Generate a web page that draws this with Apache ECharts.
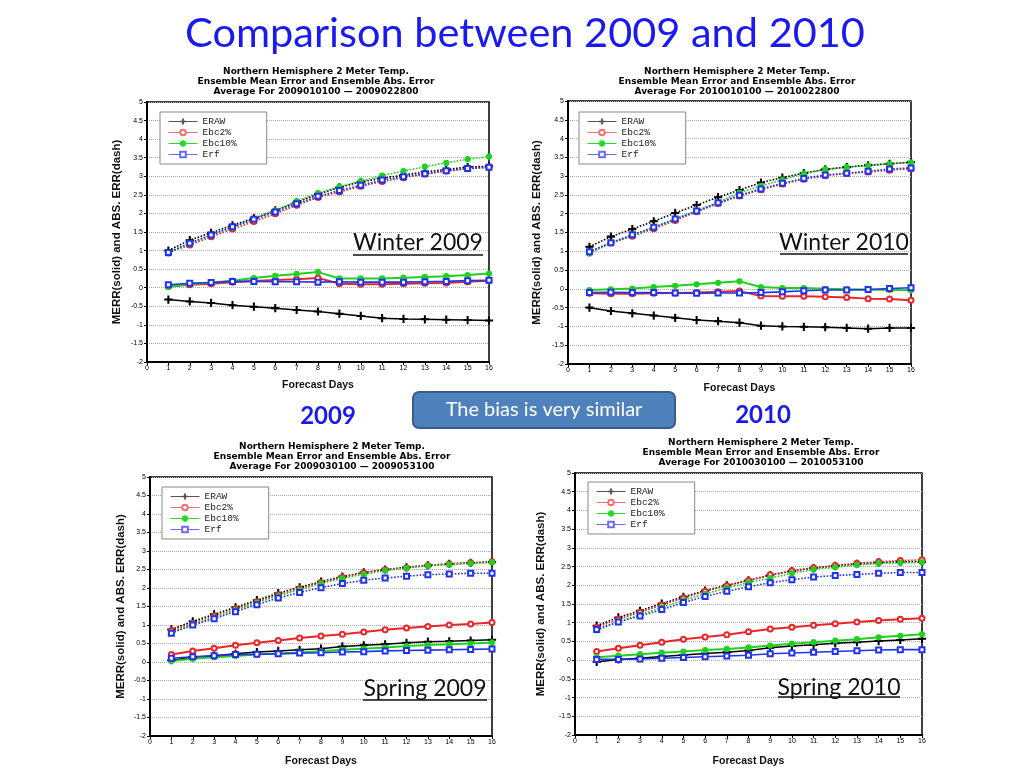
<!DOCTYPE html>
<html>
<head>
<meta charset="utf-8">
<script src="https://cdn.jsdelivr.net/npm/echarts@6/dist/echarts.min.js"></script>
<style>html,body{margin:0;padding:0;background:#fff}#c{width:1024px;height:768px}</style>
</head>
<body>
<div id="c"></div>
<script>
// ---------- data ----------
const days = [1,2,3,4,5,6,7,8,9,10,11,12,13,14,15,16];
const yTicks = [-2,-1.5,-1,-0.5,0,0.5,1,1.5,2,2.5,3,3.5,4,4.5,5];
const seriesNames = ['ERAW','Ebc2%','Ebc10%','Erf'];
const panelTitles = [
  ['Northern Hemisphere 2 Meter Temp.','Ensemble Mean Error and Ensemble Abs. Error','Average For 2009010100 \u2014 2009022800'],
  ['Northern Hemisphere 2 Meter Temp.','Ensemble Mean Error and Ensemble Abs. Error','Average For 2010010100 \u2014 2010022800'],
  ['Northern Hemisphere 2 Meter Temp.','Ensemble Mean Error and Ensemble Abs. Error','Average For 2009030100 \u2014 2009053100'],
  ['Northern Hemisphere 2 Meter Temp.','Ensemble Mean Error and Ensemble Abs. Error','Average For 2010030100 \u2014 2010053100']
];
const panelLabels = ['Winter 2009','Winter 2010','Spring 2009','Spring 2010'];

// Winter 2009 — mean error (solid)
const w09_eraw_merr = [-0.32,-0.37,-0.41,-0.47,-0.51,-0.55,-0.60,-0.64,-0.70,-0.76,-0.82,-0.84,-0.85,-0.86,-0.87,-0.88];
const w09_bc2_merr  = [0.03,0.08,0.11,0.15,0.18,0.21,0.23,0.26,0.11,0.09,0.09,0.11,0.12,0.13,0.16,0.19];
const w09_bc10_merr = [0.02,0.10,0.14,0.19,0.26,0.32,0.37,0.42,0.25,0.25,0.25,0.27,0.29,0.31,0.34,0.38];
const w09_erf_merr  = [0.08,0.12,0.14,0.17,0.17,0.16,0.16,0.15,0.16,0.15,0.15,0.15,0.16,0.17,0.19,0.20];
// Winter 2009 — abs error (dash)
const w09_eraw_abs = [1.00,1.28,1.48,1.68,1.87,2.08,2.30,2.52,2.70,2.85,2.95,3.03,3.12,3.18,3.25,3.27];
const w09_bc2_abs  = [0.95,1.15,1.37,1.58,1.78,1.99,2.22,2.43,2.58,2.73,2.86,2.96,3.06,3.14,3.20,3.25];
const w09_bc10_abs = [0.92,1.20,1.42,1.62,1.85,2.08,2.33,2.55,2.72,2.87,3.02,3.14,3.26,3.36,3.46,3.53];
const w09_erf_abs  = [0.95,1.20,1.42,1.64,1.84,2.04,2.26,2.46,2.62,2.76,2.90,2.99,3.07,3.15,3.21,3.24];

// Winter 2010
const w10_eraw_merr = [-0.50,-0.59,-0.65,-0.71,-0.77,-0.83,-0.86,-0.90,-0.98,-1.00,-1.01,-1.02,-1.04,-1.06,-1.04,-1.04];
const w10_bc2_merr  = [-0.12,-0.13,-0.13,-0.12,-0.11,-0.10,-0.08,-0.06,-0.19,-0.20,-0.20,-0.21,-0.23,-0.26,-0.27,-0.30];
const w10_bc10_merr = [-0.03,-0.01,0.01,0.05,0.08,0.12,0.16,0.20,0.05,0.02,0.02,0.00,-0.01,-0.02,-0.03,-0.04];
const w10_erf_merr  = [-0.10,-0.09,-0.10,-0.10,-0.11,-0.12,-0.11,-0.11,-0.10,-0.08,-0.05,-0.03,-0.03,-0.02,0.01,0.03];
const w10_eraw_abs = [1.12,1.39,1.59,1.80,2.02,2.23,2.44,2.63,2.83,2.96,3.08,3.18,3.24,3.29,3.33,3.37];
const w10_bc2_abs  = [0.98,1.22,1.40,1.60,1.82,2.05,2.27,2.47,2.64,2.79,2.92,3.01,3.07,3.11,3.16,3.20];
const w10_bc10_abs = [0.94,1.22,1.42,1.63,1.86,2.08,2.30,2.56,2.74,2.90,3.07,3.18,3.24,3.28,3.33,3.37];
const w10_erf_abs  = [0.99,1.23,1.44,1.64,1.86,2.07,2.29,2.49,2.66,2.81,2.94,3.03,3.08,3.13,3.19,3.22];

// Spring 2009
const s09_eraw_merr = [0.05,0.13,0.17,0.22,0.27,0.30,0.33,0.36,0.42,0.45,0.48,0.52,0.55,0.56,0.58,0.60];
const s09_bc2_merr  = [0.20,0.30,0.37,0.45,0.52,0.58,0.65,0.70,0.75,0.81,0.87,0.92,0.96,1.00,1.03,1.07];
const s09_bc10_merr = [0.03,0.09,0.13,0.16,0.20,0.23,0.26,0.29,0.33,0.36,0.39,0.43,0.46,0.48,0.50,0.53];
const s09_erf_merr  = [0.10,0.14,0.17,0.20,0.21,0.22,0.24,0.25,0.27,0.28,0.30,0.31,0.32,0.33,0.34,0.35];
const s09_eraw_abs = [0.88,1.10,1.29,1.48,1.67,1.86,2.02,2.17,2.31,2.42,2.50,2.56,2.61,2.65,2.68,2.70];
const s09_bc2_abs  = [0.85,1.05,1.24,1.43,1.63,1.82,1.98,2.15,2.29,2.41,2.49,2.55,2.61,2.65,2.68,2.71];
const s09_bc10_abs = [0.80,1.02,1.20,1.40,1.60,1.79,1.95,2.12,2.26,2.37,2.47,2.54,2.60,2.63,2.66,2.69];
const s09_erf_abs  = [0.78,1.00,1.17,1.36,1.55,1.73,1.88,2.01,2.12,2.21,2.27,2.32,2.36,2.38,2.40,2.40];

// Spring 2010
const s10_eraw_merr = [-0.05,0.02,0.05,0.10,0.14,0.18,0.21,0.26,0.33,0.38,0.41,0.45,0.48,0.51,0.54,0.57];
const s10_bc2_merr  = [0.23,0.32,0.40,0.48,0.56,0.62,0.68,0.76,0.83,0.88,0.93,0.97,1.02,1.06,1.09,1.12];
const s10_bc10_merr = [0.08,0.12,0.16,0.20,0.23,0.27,0.30,0.34,0.39,0.44,0.48,0.52,0.56,0.61,0.65,0.69];
const s10_erf_merr  = [0.02,0.02,0.03,0.05,0.07,0.09,0.11,0.13,0.17,0.19,0.21,0.23,0.25,0.27,0.28,0.28];
const s10_eraw_abs = [0.92,1.14,1.32,1.51,1.69,1.86,2.00,2.13,2.27,2.38,2.46,2.52,2.57,2.61,2.63,2.63];
const s10_bc2_abs  = [0.88,1.09,1.28,1.47,1.66,1.84,1.99,2.13,2.28,2.39,2.47,2.53,2.59,2.63,2.66,2.68];
const s10_bc10_abs = [0.80,1.03,1.22,1.41,1.60,1.77,1.93,2.07,2.19,2.32,2.42,2.48,2.54,2.58,2.60,2.61];
const s10_erf_abs  = [0.82,1.02,1.18,1.35,1.54,1.70,1.84,1.96,2.07,2.15,2.22,2.26,2.29,2.32,2.34,2.34];

const panels = [
  {merr:[w09_eraw_merr,w09_bc2_merr,w09_bc10_merr,w09_erf_merr], abs:[w09_eraw_abs,w09_bc2_abs,w09_bc10_abs,w09_erf_abs]},
  {merr:[w10_eraw_merr,w10_bc2_merr,w10_bc10_merr,w10_erf_merr], abs:[w10_eraw_abs,w10_bc2_abs,w10_bc10_abs,w10_erf_abs]},
  {merr:[s09_eraw_merr,s09_bc2_merr,s09_bc10_merr,s09_erf_merr], abs:[s09_eraw_abs,s09_bc2_abs,s09_bc10_abs,s09_erf_abs]},
  {merr:[s10_eraw_merr,s10_bc2_merr,s10_bc10_merr,s10_erf_merr], abs:[s10_eraw_abs,s10_bc2_abs,s10_bc10_abs,s10_erf_abs]}
];

// ---------- styling / layout ----------
const colors = ['#000000','#e8262a','#1fd11f','#2233ee'];
const legendColors = ['#555555','#f07070','#22dd22','#6a6af0'];
const symbols = ['path://M4.4,0H5.6V4.4H10V5.6H5.6V10H4.4V5.6H0V4.4H4.4Z','emptyCircle','circle','emptyRect'];
const symSizes = [7,5,5,5];
const solidWidths = [1.5,2,2,1.6];
const grids = [
  {left:147, top:102, width:342, height:260, xGap:18, yGap:24},
  {left:568, top:101, width:343, height:263, xGap:19, yGap:25},
  {left:150, top:477, width:342, height:261, xGap:20, yGap:23},
  {left:575, top:473, width:347, height:264, xGap:21, yGap:28}
];
const legendPos = [
  {left:160, top:112},{left:579, top:112},{left:162, top:487},{left:588, top:482}
];
const titlePos = [
  {x:316, y:67},{x:737, y:67},{x:332, y:442},{x:761, y:438}
];

const option = {
  animation:false,
  backgroundColor:'#fff',
  title: [],
  grid: [], xAxis: [], yAxis: [], legend: [], series: [],
  graphic: []
};

grids.forEach((g,i)=>{
  option.grid.push({left:g.left, top:g.top, width:g.width, height:g.height, show:true, borderColor:'#000', borderWidth:1.5, backgroundColor:'#fff'});
  option.xAxis.push({
    type:'value', gridIndex:i, min:0, max:16, interval:1,
    name:'Forecast Days', nameLocation:'middle', nameGap:g.xGap,
    nameTextStyle:{fontFamily:'Liberation Sans', fontWeight:'bold', fontSize:10.5, color:'#111'},
    axisLine:{show:true, onZero:false, lineStyle:{color:'#000', width:2}},
    axisTick:{show:true, length:3, lineStyle:{color:'#000'}},
    axisLabel:{fontFamily:'Liberation Sans', fontSize:7, color:'#000', margin:3},
    splitLine:{show:false}
  });
  option.yAxis.push({
    type:'value', gridIndex:i, min:yTicks[0], max:yTicks[yTicks.length-1], interval:0.5,
    name:'MERR(solid) and ABS. ERR(dash)', nameLocation:'middle', nameGap:g.yGap, nameRotate:90,
    nameTextStyle:{fontFamily:'Liberation Sans', fontWeight:'bold', fontSize:11.5, color:'#111'},
    axisLine:{show:true, onZero:false, lineStyle:{color:'#000', width:2}},
    axisTick:{show:true, length:3, lineStyle:{color:'#000'}},
    axisLabel:{fontFamily:'Liberation Sans', fontSize:7, color:'#000', margin:4},
    splitLine:{show:true, lineStyle:{color:'#aaa', type:'dotted', width:1}}
  });
  option.legend.push({
    left:legendPos[i].left, top:legendPos[i].top, orient:'vertical',
    data:seriesNames.map((n,k)=>({name:n, itemStyle:{color:legendColors[k], borderColor:legendColors[k], borderWidth:1}, lineStyle:{color:legendColors[k], width:1}})),
    itemWidth:29, itemHeight:7, itemGap:0,
    padding:[4,30,4,8], borderColor:'#888', borderWidth:1, backgroundColor:'#fff',
    selectedMode:false,
    textStyle:{fontFamily:'Liberation Mono', fontSize:9.5, color:'#222', lineHeight:11}
  });
  panelTitles[i].forEach((t,k)=>{
    option.title.push({
      text:t, left:titlePos[i].x, top:titlePos[i].y + k*10, textAlign:'center',
      textStyle:{fontFamily:'DejaVu Sans', fontSize:9, fontWeight:'bold', color:'#000'}, padding:0
    });
  });
  const p = panels[i];
  // solid (mean error)
  seriesNames.forEach((nm,k)=>{
    option.series.push({
      name:nm, type:'line', xAxisIndex:i, yAxisIndex:i,
      data: days.map((d,j)=>[d, p.merr[k][j]]),
      symbol:symbols[k], symbolSize:symSizes[k], showAllSymbol:true,
      lineStyle:{color:colors[k], width:solidWidths[k]},
      itemStyle:{color:colors[k], borderColor:colors[k], borderWidth:1.2},
      z: 3
    });
  });
  // dotted (abs error)
  seriesNames.forEach((nm,k)=>{
    option.series.push({
      name:nm+' ABS', type:'line', xAxisIndex:i, yAxisIndex:i,
      data: days.map((d,j)=>[d, p.abs[k][j]]),
      symbol:symbols[k], symbolSize:symSizes[k], showAllSymbol:true,
      lineStyle:{color:colors[k], width:1.6, type:'dotted'},
      itemStyle:{color:colors[k], borderColor:colors[k], borderWidth:1.2},
      z: 2
    });
  });
});

// ---------- slide decorations ----------
const blue = '#1a1af0';
option.graphic.push(
  {type:'text', x:525, y:34, style:{text:'Comparison between 2009 and 2010', font:'41.5px Lato', fill:blue, textAlign:'center', textVerticalAlign:'middle'}},
  {type:'rect', shape:{x:413, y:392, width:262, height:36, r:6}, style:{fill:'#4f81bd', stroke:'#385d8a', lineWidth:2}},
  {type:'text', x:544, y:410, style:{text:'The bias is very similar', font:'20px Lato', fill:'#fff', textAlign:'center', textVerticalAlign:'middle'}},
  {type:'text', x:328, y:416, style:{text:'2009', font:'bold 24px Lato', fill:blue, textAlign:'center', textVerticalAlign:'middle'}},
  {type:'text', x:763, y:415, style:{text:'2010', font:'bold 24px Lato', fill:blue, textAlign:'center', textVerticalAlign:'middle'}}
);
const labelPos = [
  {cx:418, cy:243, x1:353, x2:483, uy:255},
  {cx:844, cy:243, x1:780, x2:908, uy:254},
  {cx:425, cy:689, x1:363, x2:487, uy:700},
  {cx:839, cy:688, x1:778, x2:900, uy:697}
];
labelPos.forEach((l,i)=>{
  option.graphic.push(
    {type:'text', x:l.cx, y:l.cy, z:100, style:{text:panelLabels[i], font:'23px Lato', fill:'#111', textAlign:'center', textVerticalAlign:'middle'}},
    {type:'line', z:100, shape:{x1:l.x1, y1:l.uy, x2:l.x2, y2:l.uy}, style:{stroke:'#111', lineWidth:1.5}}
  );
});

const chart = echarts.init(document.getElementById('c'));
chart.setOption(option);
</script>
</body>
</html>
